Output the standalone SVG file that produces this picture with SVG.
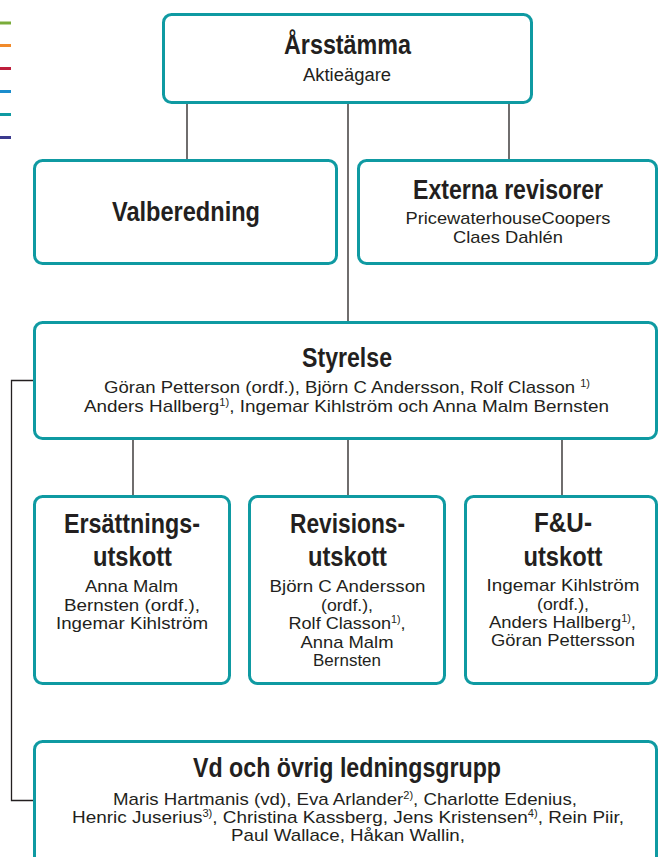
<svg xmlns="http://www.w3.org/2000/svg" width="659" height="857" viewBox="0 0 659 857">
<defs>
<style>
.box{fill:#fff;stroke:#0f9aa2;stroke-width:3}
.con{fill:none;stroke:#231f20;stroke-width:1.3}
text{font-family:"Liberation Sans",Arial,sans-serif;fill:#231f20;text-anchor:middle}
.h{font-size:27px;font-weight:bold}
.n{font-size:17px}
.s{font-size:10px}
.leg{stroke-width:3}
</style>
</defs>
<rect width="659" height="857" fill="#fff"/>
<g id="legend">
<line class="leg" x1="0" y1="23" x2="11" y2="23" stroke="#7aac3a"/>
<line class="leg" x1="0" y1="45.5" x2="11" y2="45.5" stroke="#f18a2a"/>
<line class="leg" x1="0" y1="68.5" x2="11" y2="68.5" stroke="#be1e3c"/>
<line class="leg" x1="0" y1="91.5" x2="11" y2="91.5" stroke="#1b8dcd"/>
<line class="leg" x1="0" y1="114.5" x2="11" y2="114.5" stroke="#0f9aa2"/>
<line class="leg" x1="0" y1="137.5" x2="11" y2="137.5" stroke="#3b3a8e"/>
</g>
<g id="connectors">
<line class="con" x1="187" y1="103" x2="187" y2="160"/>
<line class="con" x1="348" y1="103" x2="348" y2="322"/>
<line class="con" x1="509" y1="103" x2="509" y2="160"/>
<line class="con" x1="133" y1="439" x2="133" y2="496"/>
<line class="con" x1="348" y1="439" x2="348" y2="496"/>
<line class="con" x1="562" y1="439" x2="562" y2="496"/>
<path class="con" d="M34,380.5 H11.5 V800.5 H34"/>
</g>
<g id="arsstamma">
<rect class="box" x="163.5" y="14.5" width="368" height="88" rx="8"/>
<text class="h" x="347.5" y="54" textLength="127" lengthAdjust="spacingAndGlyphs">Årsstämma</text>
<text class="n" x="347" y="81" textLength="88" lengthAdjust="spacingAndGlyphs" style="font-size:18px">Aktieägare</text>
</g>
<g id="valberedning">
<rect class="box" x="34.5" y="160.5" width="302" height="103" rx="8"/>
<text class="h" x="186" y="221" textLength="148" lengthAdjust="spacingAndGlyphs">Valberedning</text>
</g>
<g id="externa">
<rect class="box" x="358.5" y="160.5" width="298" height="103" rx="8"/>
<text class="h" x="508" y="199" textLength="190" lengthAdjust="spacingAndGlyphs">Externa revisorer</text>
<text class="n" x="508" y="224" textLength="205" lengthAdjust="spacingAndGlyphs">PricewaterhouseCoopers</text>
<text class="n" x="508" y="243" textLength="110" lengthAdjust="spacingAndGlyphs">Claes Dahlén</text>
</g>
<g id="styrelse">
<rect class="box" x="34.5" y="322.5" width="622" height="116" rx="8"/>
<text class="h" x="347" y="367" textLength="90" lengthAdjust="spacingAndGlyphs">Styrelse</text>
<text class="n" x="347" y="393" textLength="486" lengthAdjust="spacingAndGlyphs">Göran Petterson (ordf.), Björn C Andersson, Rolf Classon <tspan class="s" dy="-6">1)</tspan></text>
<text class="n" x="346.5" y="412" textLength="525" lengthAdjust="spacingAndGlyphs">Anders Hallberg<tspan class="s" dy="-6">1)</tspan><tspan dy="6">, Ingemar Kihlström och Anna Malm Bernsten</tspan></text>
</g>
<g id="ersattning">
<rect class="box" x="34.5" y="496.5" width="195" height="187" rx="8"/>
<text class="h" x="132" y="533" textLength="136" lengthAdjust="spacingAndGlyphs">Ersättnings-</text>
<text class="h" x="132.5" y="566" textLength="79" lengthAdjust="spacingAndGlyphs">utskott</text>
<text class="n" x="131.5" y="592" textLength="93" lengthAdjust="spacingAndGlyphs">Anna Malm</text>
<text class="n" x="132" y="611" textLength="136" lengthAdjust="spacingAndGlyphs">Bernsten (ordf.),</text>
<text class="n" x="132" y="629" textLength="152" lengthAdjust="spacingAndGlyphs">Ingemar Kihlström</text>
</g>
<g id="revision">
<rect class="box" x="249.5" y="496.5" width="195" height="187" rx="8"/>
<text class="h" x="347.5" y="533" textLength="115" lengthAdjust="spacingAndGlyphs">Revisions-</text>
<text class="h" x="347.5" y="566" textLength="79" lengthAdjust="spacingAndGlyphs">utskott</text>
<text class="n" x="347.5" y="592" textLength="156" lengthAdjust="spacingAndGlyphs">Björn C Andersson</text>
<text class="n" x="347" y="610.5" textLength="52" lengthAdjust="spacingAndGlyphs">(ordf.),</text>
<text class="n" x="347" y="629" textLength="117" lengthAdjust="spacingAndGlyphs">Rolf Classon<tspan class="s" dy="-6">1)</tspan><tspan dy="6">,</tspan></text>
<text class="n" x="347" y="647.5" textLength="93" lengthAdjust="spacingAndGlyphs">Anna Malm</text>
<text class="n" x="347" y="666" textLength="68" lengthAdjust="spacingAndGlyphs">Bernsten</text>
</g>
<g id="fou">
<rect class="box" x="465.5" y="496.5" width="191" height="187" rx="8"/>
<text class="h" x="563" y="532" textLength="58" lengthAdjust="spacingAndGlyphs">F&amp;U-</text>
<text class="h" x="563" y="566" textLength="79" lengthAdjust="spacingAndGlyphs">utskott</text>
<text class="n" x="563" y="591" textLength="153" lengthAdjust="spacingAndGlyphs">Ingemar Kihlström</text>
<text class="n" x="563" y="609.5" textLength="52" lengthAdjust="spacingAndGlyphs">(ordf.),</text>
<text class="n" x="562.5" y="628" textLength="147" lengthAdjust="spacingAndGlyphs">Anders Hallberg<tspan class="s" dy="-6">1)</tspan><tspan dy="6">,</tspan></text>
<text class="n" x="563" y="646" textLength="144" lengthAdjust="spacingAndGlyphs">Göran Pettersson</text>
</g>
<g id="vd">
<rect class="box" x="34.5" y="741.5" width="622" height="140" rx="8"/>
<text class="h" x="347" y="777" textLength="308" lengthAdjust="spacingAndGlyphs">Vd och övrig ledningsgrupp</text>
<text class="n" x="345" y="805" textLength="464" lengthAdjust="spacingAndGlyphs">Maris Hartmanis (vd), Eva Arlander<tspan class="s" dy="-6">2)</tspan><tspan dy="6">, Charlotte Edenius,</tspan></text>
<text class="n" x="348" y="823" textLength="552" lengthAdjust="spacingAndGlyphs">Henric Juserius<tspan class="s" dy="-6">3)</tspan><tspan dy="6">, Christina Kassberg, Jens Kristensen</tspan><tspan class="s" dy="-6">4)</tspan><tspan dy="6">, Rein Piir,</tspan></text>
<text class="n" x="348" y="841" textLength="234" lengthAdjust="spacingAndGlyphs">Paul Wallace, Håkan Wallin,</text>
</g>
</svg>
